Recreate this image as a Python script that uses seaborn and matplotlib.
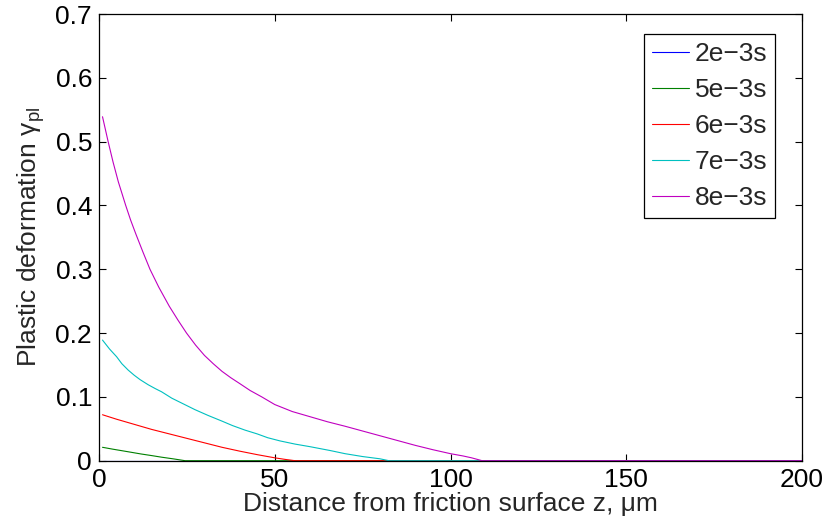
import numpy as np
import pandas as pd
import matplotlib
matplotlib.use("Agg")
import matplotlib.pyplot as plt
import seaborn as sns

# series (z in um, plastic deformation)
labels = ["2e\u22123s", "5e\u22123s", "6e\u22123s", "7e\u22123s", "8e\u22123s"]
colors = ["#0000ff", "#008000", "#ff0000", "#00c0c0", "#c000c0"]

z_2e3 = [1, 200]
g_2e3 = [0.0, 0.0]

z_5e3 = [1, 4, 8.3, 12, 15, 17.8, 21, 24.5, 200]
g_5e3 = [0.021, 0.018, 0.014, 0.0105, 0.008, 0.0055, 0.003, 0.0, 0.0]

z_6e3 = [1, 5, 10, 15, 20, 25, 30, 35, 40, 45, 50, 53, 55.8, 200]
g_6e3 = [0.072, 0.065, 0.057, 0.049, 0.042, 0.035, 0.028, 0.021, 0.015, 0.0095, 0.0045,
         0.002, 0.0, 0.0]

z_7e3 = [1, 3, 5, 6.5, 8.3, 10, 11.7, 14, 16, 17.8, 20.7, 24, 27.3, 31, 35, 38, 41.5, 45,
         48, 51.5, 55.8, 60, 65.7, 70, 75, 79.9, 82.5, 200]
g_7e3 = [0.189, 0.175, 0.163, 0.152, 0.142, 0.134, 0.127, 0.119, 0.113, 0.108, 0.098,
         0.089, 0.080, 0.071, 0.062, 0.055, 0.048, 0.042, 0.036, 0.031, 0.026, 0.022,
         0.016, 0.011, 0.0065, 0.003, 0.0, 0.0]

z_8e3 = [1, 2.6, 4, 5.5, 7.6, 9, 10.5, 12.5, 14.5, 17, 20, 22.5, 24.9, 27.5, 30, 32.5, 35,
         37.5, 40, 43, 46.3, 50, 55, 60, 65, 70, 75, 80, 85, 90, 95, 100, 103.6, 106, 109,
         200]
g_8e3 = [0.539, 0.500, 0.468, 0.437, 0.400, 0.377, 0.355, 0.327, 0.300, 0.272, 0.242,
         0.220, 0.200, 0.181, 0.165, 0.152, 0.140, 0.130, 0.121, 0.110, 0.100, 0.088,
         0.077, 0.069, 0.061, 0.054, 0.0465, 0.039, 0.0315, 0.024, 0.0172, 0.011, 0.0074,
         0.0045, 0.0, 0.0]

x_ticks = [0, 50, 100, 150, 200]
y_ticks = [0, 0.1, 0.2, 0.3, 0.4, 0.5, 0.6, 0.7]
y_ticklabels = ["0", "0.1", "0.2", "0.3", "0.4", "0.5", "0.6", "0.7"]

sns.set_theme(style="white")
plt.rcParams["font.family"] = ["Liberation Sans", "DejaVu Sans"]
plt.rcParams["mathtext.fontset"] = "custom"
plt.rcParams["mathtext.rm"] = "Liberation Sans"
plt.rcParams["mathtext.it"] = "Liberation Sans:italic"

frames = []
for lab, zz, gg in zip(labels,
                       [z_2e3, z_5e3, z_6e3, z_7e3, z_8e3],
                       [g_2e3, g_5e3, g_6e3, g_7e3, g_8e3]):
    frames.append(pd.DataFrame({"z": zz, "gamma": gg, "t": lab}))
df = pd.concat(frames, ignore_index=True)

fig = plt.figure(figsize=(8.27, 5.22), dpi=100)
ax = fig.add_axes([99 / 827, 1 - 460.7 / 522, 703 / 827, 446.7 / 522])

sns.lineplot(data=df, x="z", y="gamma", hue="t", hue_order=labels,
             palette=colors, sort=False, estimator=None, linewidth=0.8, ax=ax)

ax.set_xlim(0, 200)
ax.set_ylim(0, 0.7)
ax.set_xticks(x_ticks)
ax.set_yticks(y_ticks)
ax.set_yticklabels(y_ticklabels)
fs = 19
ax.tick_params(direction="in", length=5, width=0.8, colors="black", labelsize=fs,
               top=True, right=True, bottom=True, left=True, pad=5)
for sp in ax.spines.values():
    sp.set_color("black")
    sp.set_linewidth(0.9)
    sp.set_visible(True)

ax.set_xlabel("Distance from friction surface z, \u03bcm", fontsize=fs, labelpad=0)
ax.set_ylabel(r"Plastic deformation $\mathrm{\gamma_{pl}}$", fontsize=fs, labelpad=6)

leg = ax.legend(loc="upper right", bbox_to_anchor=(0.9616, 0.9545), borderaxespad=0,
                fontsize=fs, frameon=True, fancybox=False, framealpha=1,
                handlelength=1.4, handletextpad=0.2, labelspacing=0.45, borderpad=0.3,
                title=None)
leg.get_frame().set_edgecolor("black")
leg.get_frame().set_linewidth(0.9)

fig.savefig("out.png", dpi=100)
